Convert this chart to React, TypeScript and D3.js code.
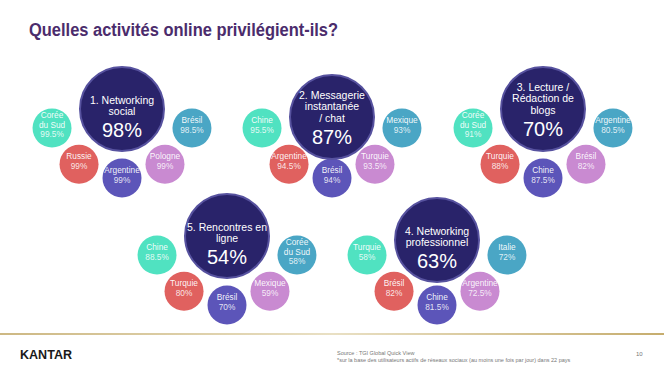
import React from "react";
import * as d3 from "d3";

const title = "Quelles activités online privilégient-ils?";
const activityLines: string[][] = [
  ["1. Networking", "social"],
  ["2. Messagerie", "instantanée", "/ chat"],
  ["3. Lecture /", "Rédaction de", "blogs"],
  ["4. Networking", "professionnel"],
  ["5. Rencontres en", "ligne"],
];
const activityValues = [98, 87, 70, 63, 54];

const countries1 = ["Corée du Sud", "Russie", "Argentine", "Pologne", "Brésil"];
const values1 = [99.5, 99, 99, 99, 98.5];
const countries2 = ["Chine", "Argentine", "Brésil", "Turquie", "Mexique"];
const values2 = [95.5, 94.5, 94, 93.5, 93];
const countries3 = ["Corée du Sud", "Turquie", "Chine", "Brésil", "Argentine"];
const values3 = [91, 88, 87.5, 82, 80.5];
const countries4 = ["Turquie", "Brésil", "Chine", "Argentine", "Italie"];
const values4 = [58, 82, 81.5, 72.5, 72];
const countries5 = ["Chine", "Turquie", "Brésil", "Mexique", "Corée du Sud"];
const values5 = [88.5, 80, 70, 59, 58];

const groupCountries = [countries1, countries2, countries3, countries4, countries5];
const groupValues = [values1, values2, values3, values4, values5];

const sourceLines = [
  "Source : TGI Global Quick View",
  "*sur la base des utilisateurs actifs de réseaux sociaux (au moins une fois par jour) dans 22 pays",
];
const pageNumber = "10";

// layout (not data)
const arcCenters: [number, number][] = [
  [122, 104],
  [332, 104],
  [543, 104],
  [437, 231],
  [227, 231],
];
const bigOffsets = [5, 13, 5, 9, 5];
const slotColors = ["#50e2c1", "#e0615f", "#5c55b9", "#c98ad1", "#4aa6c5"];
const FONT = "'Liberation Sans', Arial, Helvetica, sans-serif";

const fmt = (v: number) => `${v}%`;
const splitName = (n: string) => (n === "Corée du Sud" ? ["Corée", "du Sud"] : [n]);

export default function App() {
  const W = 664;
  const H = 374;
  const angle = d3.scaleLinear().domain([0, 4]).range([(161 * Math.PI) / 180, (19 * Math.PI) / 180]);
  const R = 74;
  const rSmall = 19.5;
  const rBig = 42;

  return (
    <svg width={W} height={H} style={{ position: "absolute", left: 0, top: 0, background: "#fff" }}>
      <defs>
        <linearGradient id="gold" x1="0" x2="1" y1="0" y2="0">
          <stop offset="0" stopColor="#cdb883" />
          <stop offset="0.5" stopColor="#e9e0c4" />
          <stop offset="1" stopColor="#c6ad6e" />
        </linearGradient>
      </defs>
      <rect x={0} y={0} width={W} height={H} fill="#fff" />
      <text x={29} y={36} fontFamily={FONT} fontWeight="bold" fontSize={17.5} fill="#4b2c6c" textLength={309} lengthAdjust="spacingAndGlyphs">
        {title}
      </text>

      {activityLines.map((lines, g) => {
        const [acx, acy] = arcCenters[g];
        const bcy = acy + bigOffsets[g];
        const n = lines.length;
        const lh = 11.3;
        const firstBase = n === 2 ? bcy - 5 : bcy - 18;
        const pctBase = firstBase + (n - 1) * lh + 22;
        return (
          <g key={g}>
            {groupCountries[g].map((c, i) => {
              const a = angle(i);
              const x = acx + R * Math.cos(a);
              const y = acy + R * Math.sin(a);
              const nameLines = splitName(c);
              const all = [...nameLines, fmt(groupValues[g][i])];
              const start = all.length === 3 ? y - 10 : y - 5;
              return (
                <g key={i}>
                  <circle cx={x} cy={y} r={rSmall} fill={slotColors[i]} />
                  {all.map((t, k) => (
                    <text
                      key={k}
                      x={x}
                      y={start + k * 9.5}
                      textAnchor="middle"
                      fontFamily={FONT}
                      fontSize={8.3}
                      fill="#ffffff"
                      fillOpacity={k === all.length - 1 ? 0.85 : 0.95}
                    >
                      {t}
                    </text>
                  ))}
                </g>
              );
            })}
            <circle cx={acx} cy={bcy} r={rBig} fill="#29236a" stroke="#57529f" strokeWidth={2} />
            {lines.map((t, k) => (
              <text key={k} x={acx} y={firstBase + k * lh} textAnchor="middle" fontFamily={FONT} fontSize={10.5} fill="#ffffff">
                {t}
              </text>
            ))}
            <text x={acx} y={pctBase} textAnchor="middle" fontFamily={FONT} fontSize={20} fill="#ffffff">
              {fmt(activityValues[g])}
            </text>
          </g>
        );
      })}

      <rect x={0} y={333} width={W} height={2} fill="url(#gold)" />
      <text x={20} y={359} fontFamily={FONT} fontWeight="bold" fontSize={13.5} fill="#1a1a1a" textLength={52} lengthAdjust="spacingAndGlyphs">
        KANTAR
      </text>
      {sourceLines.map((t, k) => (
        <text key={k} x={337} y={355 + k * 6.5} fontFamily={FONT} fontSize={5.5} fill="#777">
          {t}
        </text>
      ))}
      <text x={636} y={356} fontFamily={FONT} fontSize={6} fill="#777">
        {pageNumber}
      </text>
    </svg>
  );
}
